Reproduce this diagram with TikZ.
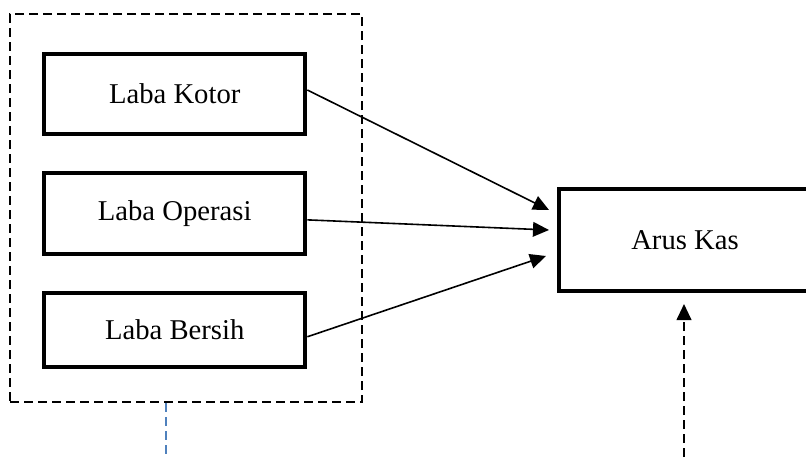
\documentclass[tikz,border=0pt]{standalone}
\usepackage{fontspec}
\setmainfont{Liberation Serif}
\usepackage{tikz}
\usetikzlibrary{arrows.meta,calc}
\definecolor{linkblue}{RGB}{79,129,189}

\begin{document}
\begin{tikzpicture}[x=0.75pt,y=-0.75pt,>={Triangle[length=12pt,width=11pt]},
    var/.style={draw, line width=3pt, minimum width=196pt, inner sep=0pt,
                font=\fontsize{21.5}{26}\selectfont},
    dsh/.style={line width=1.5pt, dash pattern=on 6.5pt off 4pt},
    grp/.style={draw, dsh, minimum width=264pt, minimum height=291pt},
    link/.style={->, line width=1.2pt}]

%the frame
    \useasboundingbox (0,0) rectangle (806,457);
    \clip (0,0) rectangle (806,457);

%the independent variables
    \node[grp] (laba) at (186,208) {};
    \node[var, minimum height=60pt] (kotor) at (174.7,94) {Laba Kotor};
    \node[var, minimum height=61pt] (operasi) at (174.7,213.2) {Laba Operasi};
    \node[var, minimum height=56pt] (bersih) at (174.7,330.1) {Laba Bersih};

%the dependent variable
    \node[var, minimum width=189.5pt, minimum height=77pt] (arus) at (685,240) {Arus Kas};

% the arrow tips
    \coordinate (inK) at (549,210);
    \coordinate (inO) at (549,230);
    \coordinate (inB) at (546,256);
    \coordinate (lowL) at (166,457);
    \coordinate (lowR) at (684,457);

    \draw[link] ([yshift=3pt]kotor.east) -- (inK);
    \draw[link] ([yshift=-5pt]operasi.east) -- (inO);
    \draw[link] ([yshift=-5pt]bersih.east) -- (inB);

% the dashed lines at the bottom
    \draw[linkblue, dsh] (laba.south -| lowL) -- (lowL);
    \draw[->, dsh, shorten >=8pt] (lowR) -- (arus.south -| lowR);
\end{tikzpicture}
\end{document}
